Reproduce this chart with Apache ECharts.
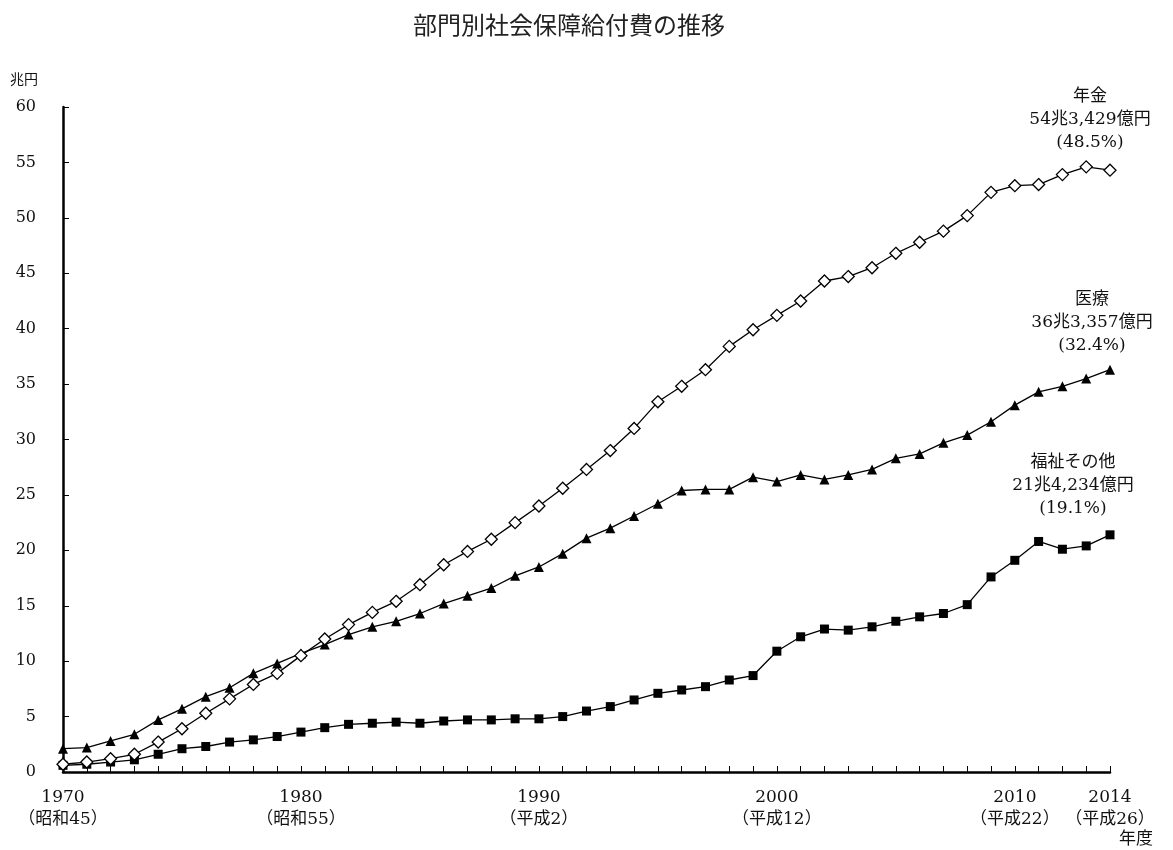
<!DOCTYPE html>
<html>
<head>
<meta charset="utf-8">
<title>部門別社会保障給付費の推移</title>
<script src="https://cdn.jsdelivr.net/npm/echarts@6/dist/echarts.min.js"></script>
<style>
	html, body { margin: 0; padding: 0; background: #fff; }
	#socialChart { width: 1173px; height: 850px; }
</style>
</head>
<body>
<div id="socialChart"></div>
<script>
/***部門別社会保障給付費****/
// 年度
var years = ['1970', '1971', '1972', '1973', '1974', '1975', '1976', '1977', '1978', '1979',
	'1980', '1981', '1982', '1983', '1984', '1985', '1986', '1987', '1988', '1989',
	'1990', '1991', '1992', '1993', '1994', '1995', '1996', '1997', '1998', '1999',
	'2000', '2001', '2002', '2003', '2004', '2005', '2006', '2007', '2008', '2009',
	'2010', '2011', '2012', '2013', '2014'];
// 和暦ラベル（表示する年度のみ）
var eraLabels = {
	'1970': '（昭和45）',
	'1980': '（昭和55）',
	'1990': '（平成2）',
	'2000': '（平成12）',
	'2010': '（平成22）',
	'2014': '（平成26）'
};
// 年金（兆円）
var pension = [0.7, 0.9, 1.2, 1.6, 2.7, 3.9, 5.3, 6.6, 7.9, 8.9,
	10.5, 12.0, 13.3, 14.4, 15.4, 16.9, 18.7, 19.9, 21.0, 22.5,
	24.0, 25.6, 27.3, 29.0, 31.0, 33.4, 34.8, 36.3, 38.4, 39.9,
	41.2, 42.5, 44.3, 44.7, 45.5, 46.8, 47.8, 48.8, 50.2, 52.3,
	52.9, 53.0, 53.9, 54.6, 54.3];
// 医療（兆円）
var medical = [2.1, 2.2, 2.8, 3.4, 4.7, 5.7, 6.8, 7.6, 8.9, 9.8,
	10.7, 11.5, 12.4, 13.1, 13.6, 14.3, 15.2, 15.9, 16.6, 17.7,
	18.5, 19.7, 21.1, 22.0, 23.1, 24.2, 25.4, 25.5, 25.5, 26.6,
	26.2, 26.8, 26.4, 26.8, 27.3, 28.3, 28.7, 29.7, 30.4, 31.6,
	33.1, 34.3, 34.8, 35.5, 36.3];
// 福祉その他（兆円）
var welfare = [0.6, 0.7, 0.9, 1.1, 1.6, 2.1, 2.3, 2.7, 2.9, 3.2,
	3.6, 4.0, 4.3, 4.4, 4.5, 4.4, 4.6, 4.7, 4.7, 4.8,
	4.8, 5.0, 5.5, 5.9, 6.5, 7.1, 7.4, 7.7, 8.3, 8.7,
	10.9, 12.2, 12.9, 12.8, 13.1, 13.6, 14.0, 14.3, 15.1, 17.6,
	19.1, 20.8, 20.1, 20.4, 21.4];
// 系列名と末尾注記
var seriesNames = ['年金', '医療', '福祉その他'];
var endNotes = [
	'年金\n54兆3,429億円\n(48.5%)',
	'医療\n36兆3,357億円\n(32.4%)',
	'福祉その他\n21兆4,234億円\n(19.1%)'
];

var serifFont = '"DejaVu Serif", "Liberation Serif", "Noto Sans CJK JP", serif';
var jpFont = '"Noto Sans CJK JP", sans-serif';

var socialReport = {
	init: function() {
		this.chart();
	},
	//最終年度に注記を付ける
	withEndLabel: function(arr, text, dx, dist) {
		return arr.map(function(v, i) {
			if (i !== arr.length - 1) return v;
			return {
				value: v,
				label: {
					show: true,
					position: 'top',
					distance: dist,
					offset: [dx, 0],
					formatter: text,
					align: 'center',
					color: '#111',
					fontFamily: serifFont,
					fontSize: 17,
					lineHeight: 23
				}
			};
		});
	},
	chart: function() {
		var self = this;
		var socialChart = echarts.init(document.getElementById('socialChart'));
		var option = {
			animation: false,
			backgroundColor: '#fff',
			title: {
				text: '部門別社会保障給付費の推移',
				left: 408,
				top: 8,
				textStyle: {
					fontFamily: jpFont,
					fontSize: 24,
					fontWeight: 'normal',
					color: '#222'
				}
			},
			grid: {
				left: 63,
				right: 63,
				top: 107,
				bottom: 78
			},
			graphic: [{
				type: 'text',
				left: 10,
				top: 72,
				style: {
					text: '兆円',
					fontFamily: jpFont,
					fontSize: 14,
					fill: '#111'
				}
			}, {
				type: 'text',
				right: 20,
				top: 829,
				style: {
					text: '年度',
					fontFamily: jpFont,
					fontSize: 17,
					fill: '#111'
				}
			}],
			xAxis: {
				type: 'category',
				boundaryGap: false,
				data: years,
				axisLine: {
					lineStyle: { color: '#000', width: 2.5 }
				},
				axisTick: {
					show: true,
					inside: true,
					length: 6,
					interval: 0,
					lineStyle: { color: '#000', width: 1 }
				},
				axisLabel: {
					interval: 0,
					margin: 15,
					color: '#111',
					fontFamily: serifFont,
					fontSize: 17,
					lineHeight: 22,
					formatter: function(v) {
						return eraLabels[v] ? v + '\n' + eraLabels[v] : '';
					}
				},
				splitLine: { show: false }
			},
			yAxis: {
				type: 'value',
				min: 0,
				max: 60,
				interval: 5,
				axisLine: {
					show: true,
					lineStyle: { color: '#000', width: 2.5 }
				},
				axisTick: {
					show: true,
					inside: true,
					length: 6,
					lineStyle: { color: '#000', width: 1 }
				},
				axisLabel: {
					margin: 27,
					color: '#111',
					fontFamily: serifFont,
					fontSize: 16
				},
				splitLine: { show: false }
			},
			series: [{
					name: seriesNames[0],
					type: 'line',
					data: self.withEndLabel(pension, endNotes[0], -20, 9),
					symbol: 'diamond',
					symbolSize: 12,
					showAllSymbol: true,
					lineStyle: { color: '#000', width: 1.3 },
					itemStyle: { color: '#fff', borderColor: '#000', borderWidth: 1.3 },
					z: 3
				},
				{
					name: seriesNames[1],
					type: 'line',
					data: self.withEndLabel(medical, endNotes[1], -18, 8),
					symbol: 'triangle',
					symbolSize: 10,
					showAllSymbol: true,
					lineStyle: { color: '#000', width: 1.3 },
					itemStyle: { color: '#000' },
					z: 2
				},
				{
					name: seriesNames[2],
					type: 'line',
					data: self.withEndLabel(welfare, endNotes[2], -37, 10),
					symbol: 'rect',
					symbolSize: 9,
					showAllSymbol: true,
					lineStyle: { color: '#000', width: 1.3 },
					itemStyle: { color: '#000' },
					z: 2
				}
			]
		};
		socialChart.setOption(option, true);
	}
};
//初期化
socialReport.init();
</script>
</body>
</html>
